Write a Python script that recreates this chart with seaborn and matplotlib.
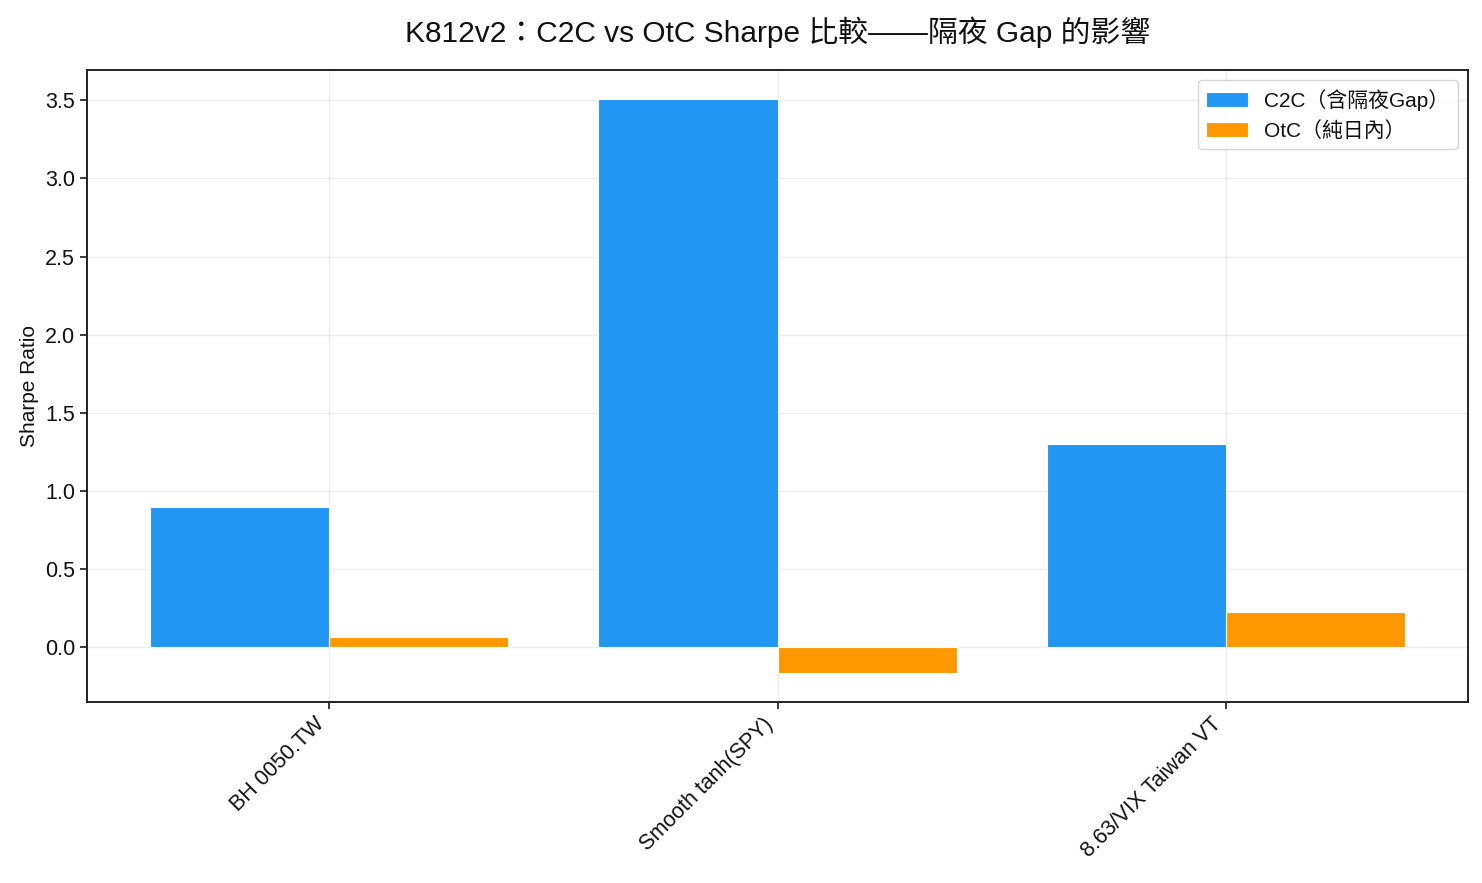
#!/usr/bin/env python3
#
# C2C vs OtC Sharpe comparison for three strategies
#
import matplotlib
matplotlib.use('Agg')
import matplotlib.pyplot as plt
import seaborn as sns
import pandas as pd

# Data
strategies = ['BH 0050.TW', 'Smooth tanh(SPY)', '8.63/VIX Taiwan VT']
series = ['C2C（含隔夜Gap）', 'OtC（純日內）']
sharpe_c2c = [0.90, 3.51, 1.30]
sharpe_otc = [0.065, -0.165, 0.23]
colors = ['#2196F3', '#FF9800']

sns.set_theme(style='ticks')
plt.rcParams['font.family'] = ['Liberation Sans', 'Noto Sans CJK TC', 'DejaVu Sans']
plt.rcParams['axes.unicode_minus'] = False
for key in ['text.color', 'axes.labelcolor', 'xtick.color', 'ytick.color']:
    plt.rcParams[key] = '#111111'

df = pd.DataFrame({
    'strategy': strategies * 2,
    'series': [series[0]] * len(strategies) + [series[1]] * len(strategies),
    'sharpe': sharpe_c2c + sharpe_otc,
})

fig = plt.figure(figsize=(14.82, 8.83), dpi=100)
fig.subplots_adjust(left=0.0587, right=0.9906, top=0.9207, bottom=0.205)
ax = fig.add_subplot(111)

sns.barplot(data=df, x='strategy', y='sharpe', hue='series', order=strategies,
            hue_order=series, palette=dict(zip(series, colors)), width=0.8,
            edgecolor='white', linewidth=0.8, saturation=1, errorbar=None, ax=ax)

# Restore default margins and grid
ax.autoscale(enable=True, axis='x')
ax.margins(x=0.05, y=0.05)
ax.grid(True, alpha=0.35, color='#cccccc', linewidth=1)
ax.set_axisbelow(True)
for s in ax.spines.values():
    s.set_color('#222222')
    s.set_linewidth(1.4)

ax.set_xlabel('')
ax.set_ylabel('Sharpe Ratio', fontsize=15)
ax.tick_params(axis='both', labelsize=15.5, color='#222222', length=5)
plt.setp(ax.get_xticklabels(), rotation=45, ha='right', rotation_mode='default')
ax.set_title('K812v2：C2C vs OtC Sharpe 比較——隔夜 Gap 的影響', fontsize=21.5, pad=20)

leg = ax.legend(loc='upper right', fontsize=15, frameon=True, title=None)
leg.get_frame().set_edgecolor('#cccccc')

plt.savefig('out.png')
